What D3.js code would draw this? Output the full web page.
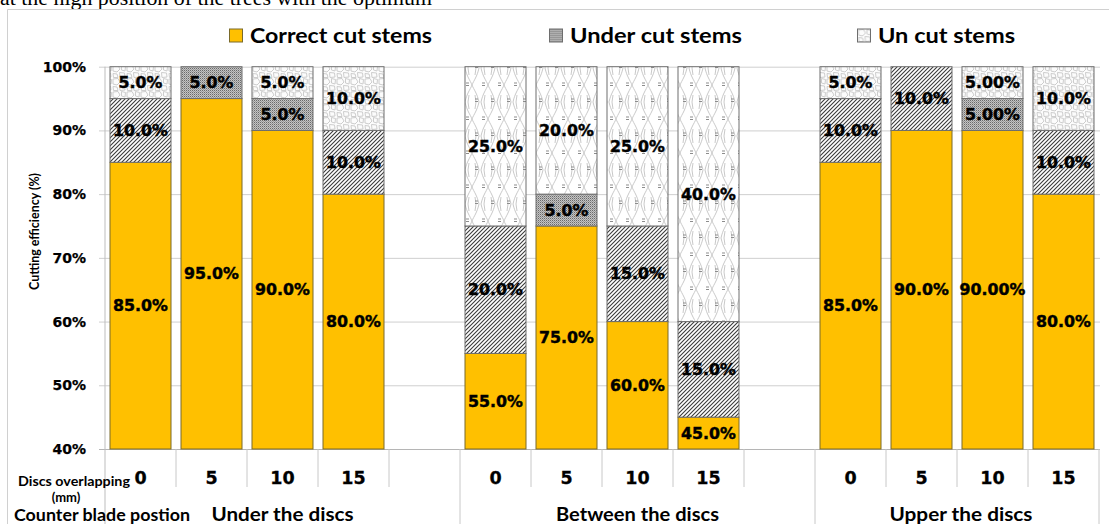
<!DOCTYPE html>
<html>
<head>
<meta charset="utf-8">
<script src="https://cdn.jsdelivr.net/npm/d3@7"></script>
<style>
  html, body { margin: 0; padding: 0; background: #fff; }
  svg { display: block; }
</style>
</head>
<body>
<svg id="chart" width="1109" height="524"></svg>
<script>
// ---------------- data ----------------
const groups = ["Under the discs", "Between the discs", "Upper the discs"];
const overlaps = ["0", "5", "10", "15"];
const seriesNames = ["Correct cut stems", "Under cut stems", "Un cut stems"];
const correctCut = [85, 95, 90, 80, 55, 75, 60, 45, 85, 90, 90, 80];
const underCut   = [10, 5, 5, 10, 20, 5, 15, 15, 10, 10, 5, 10];
const unCut      = [5, 0, 5, 10, 25, 20, 25, 40, 5, 0, 5, 10];
const labelDecimals = [1, 1, 1, 1, 1, 1, 1, 1, 1, 1, 2, 1];
const yTicks = [40, 50, 60, 70, 80, 90, 100];
const yTickLabels = ["40%", "50%", "60%", "70%", "80%", "90%", "100%"];

// ---------------- build slots ----------------
const slots = [];
let idx = 0;
groups.forEach((g, gi) => {
  overlaps.forEach(o => { slots.push({ key: g + "|" + o, group: gi, overlap: o, idx: idx++ }); });
  if (gi < groups.length - 1) slots.push({ key: g + "|gap", group: gi, overlap: "", idx: null });
});
const rows = slots.filter(s => s.idx !== null).map(s => ({
  key: s.key, idx: s.idx,
  correct: correctCut[s.idx], under: underCut[s.idx], uncut: unCut[s.idx]
}));

const svg = d3.select("#chart");
const W = 1109, H = 524;
svg.append("rect").attr("width", W).attr("height", H).attr("fill", "#fff");

// ---------------- patterns ----------------
const defs = svg.append("defs");
const ph = defs.append("pattern").attr("id", "hatch").attr("patternUnits", "userSpaceOnUse")
  .attr("width", 4).attr("height", 4);
ph.append("rect").attr("width", 4).attr("height", 4).attr("fill", "#fff");
ph.append("path").attr("d", "M-1,1 L1,-1 M0,4 L4,0 M3,5 L5,3")
  .attr("stroke", "#3a3a3a").attr("stroke-width", 1.1);
const pd = defs.append("pattern").attr("id", "dots").attr("patternUnits", "userSpaceOnUse")
  .attr("width", 2).attr("height", 2);
pd.append("rect").attr("width", 2).attr("height", 2).attr("fill", "#c4c4c4");
pd.append("rect").attr("width", 1).attr("height", 1).attr("fill", "#6a6a6a");
pd.append("rect").attr("x", 1).attr("y", 1).attr("width", 1).attr("height", 1).attr("fill", "#9a9a9a");
const pp = defs.append("pattern").attr("id", "pebble").attr("patternUnits", "userSpaceOnUse")
  .attr("width", 14).attr("height", 13);
pp.append("rect").attr("width", 14).attr("height", 13).attr("fill", "#fcfcfc");
pp.append("path")
  .attr("d", "M1,1 L6,0.5 L8,4 L5,7 L1,6 Z M9.5,0.5 L13.5,1.5 L13,6 L9.5,5 Z M1,8.5 L5,9 L6,12.5 L1.5,12.5 Z M7.5,7.5 L12.5,8 L13,12 L8,12.5 Z")
  .attr("fill", "none").attr("stroke", "#cdcdcd").attr("stroke-width", 1);
const pw = defs.append("pattern").attr("id", "weave").attr("patternUnits", "userSpaceOnUse")
  .attr("width", 16).attr("height", 34);
pw.append("rect").attr("width", 16).attr("height", 34).attr("fill", "#fff");
pw.append("path")
  .attr("d", "M1,0 C3,9 6,12 8,17 C10,22 13,25 15,34 M15,0 C13,9 10,12 8,17 C6,22 3,25 1,34 M4,0 L5,7 M12,0 L11,7 M5,27 L4,34 M11,27 L12,34")
  .attr("fill", "none").attr("stroke", "#c9c9c9").attr("stroke-width", 1);
pw.append("path")
  .attr("d", "M2,15 L5,15 M2,17.5 L5,17.5 M11,31 L14,31 M11,33.5 L14,33.5")
  .attr("fill", "none").attr("stroke", "#8c8c8c").attr("stroke-width", 1);

// ---------------- scales ----------------
const x = d3.scaleBand().domain(slots.map(s => s.key)).range([105, 1099])
  .paddingInner(10 / 71).paddingOuter(5 / 71);
const y = d3.scaleLinear().domain([40, 100]).range([449, 66.7]).clamp(true);

// top clipped document text (cut off in the reference too)
svg.append("text").attr("x", 0).attr("y", 5)
  .attr("font-family", "Liberation Serif, serif").attr("font-size", 20)
  .attr("textLength", 432).attr("lengthAdjust", "spacingAndGlyphs")
  .text("at the high position of the trees with the optimum");

// chart frame
svg.append("path").attr("d", "M7.5,530 L7.5,9.5 L1120,9.5")
  .attr("fill", "none").attr("stroke", "#d0d0d0");

// ---------------- grid / y axis ----------------
const yAxis = d3.axisLeft(y).tickValues(yTicks)
  .tickFormat((d, i) => yTickLabels[i]).tickSizeInner(-(1100 - 99)).tickSizeOuter(0).tickPadding(13);
const gy = svg.append("g").attr("transform", "translate(99,0)").call(yAxis)
  .attr("font-family", "DejaVu Sans, sans-serif").attr("font-size", 14);
gy.select(".domain").remove();
gy.selectAll(".tick line").attr("stroke", (d) => d === 40 ? "#b5b5b5" : "#cfcfcf").attr("stroke-width", 1);
gy.selectAll(".tick text").style("font-family", "DejaVu Sans, sans-serif").style("font-weight", "bold")
  .style("font-size", "14px").attr("fill", "#000").attr("stroke", "#000").attr("stroke-width", 0.25);

svg.append("line").attr("x1", 105).attr("x2", 105).attr("y1", y(100)).attr("y2", H)
  .attr("stroke", "#bdbdbd");

// category separators
const nSlots = slots.length;
const x0 = x.range()[0], step = (x.range()[1] - x.range()[0]) / nSlots;
const sepIdx = d3.range(1, nSlots + 1);
const longSep = new Set();
slots.forEach((s, i) => { if (i > 0 && slots[i - 1].group !== s.group) longSep.add(i); });
longSep.add(nSlots);
svg.append("g").selectAll("line").data(sepIdx).join("line")
  .attr("x1", k => x0 + k * step).attr("x2", k => x0 + k * step)
  .attr("y1", 449).attr("y2", k => longSep.has(k) ? H : 487)
  .attr("stroke", "#c8c8c8");

// ---------------- bars ----------------
const stack = d3.stack().keys(["correct", "under", "uncut"]);
const stacked = stack(rows);
function fillFor(key, d) {
  const v = d[1] - d[0];
  if (key === "correct") return "#FFC000";
  if (key === "under") return v <= 5 ? "url(#dots)" : "url(#hatch)";
  return v >= 20 ? "url(#weave)" : "url(#pebble)";
}
const gBars = svg.append("g");
stacked.forEach(layer => {
  gBars.append("g").selectAll("rect").data(layer.filter(d => d[1] - d[0] > 0)).join("rect")
    .attr("x", d => x(d.data.key))
    .attr("width", x.bandwidth())
    .attr("y", d => y(d[1]))
    .attr("height", d => y(d[0]) - y(d[1]))
    .attr("fill", d => fillFor(layer.key, d))
    .attr("stroke", layer.key === "correct" ? "#7a6a2a" : "#6e6e6e")
    .attr("stroke-width", 1);
});
const gLab = svg.append("g");
stacked.forEach(layer => {
  gLab.append("g").selectAll("text").data(layer.filter(d => d[1] - d[0] > 0)).join("text")
    .attr("x", d => x(d.data.key) + x.bandwidth() / 2)
    .attr("y", d => y((Math.max(d[0], 40) + d[1]) / 2))
    .attr("dy", "0.36em")
    .attr("text-anchor", "middle")
    .attr("font-family", "DejaVu Sans, sans-serif").attr("font-weight", "bold")
    .attr("font-size", 15.8).attr("fill", "#000").attr("stroke", "#000").attr("stroke-width", 0.45)
    .text(d => (d[1] - d[0]).toFixed(labelDecimals[d.data.idx]) + "%");
});

// ---------------- category labels ----------------
svg.append("g").selectAll("text").data(slots.filter(s => s.overlap !== "")).join("text")
  .attr("x", s => x(s.key) + x.bandwidth() / 2).attr("y", 484)
  .attr("text-anchor", "middle")
  .attr("font-family", "DejaVu Sans, sans-serif").attr("font-weight", "bold").attr("font-size", 17.5)
  .attr("stroke", "#000").attr("stroke-width", 0.3)
  .text(s => s.overlap);

const groupCenters = groups.map((g, gi) => {
  const gs = slots.filter(s => s.group === gi);
  const a = x0 + slots.indexOf(gs[0]) * step;
  const b = Math.min(x0 + (slots.indexOf(gs[gs.length - 1]) + 1) * step, W);
  return gi === groups.length - 1 ? (a + b) / 2 + 4 : (a + b) / 2;
});
const groupWidths = [142, 163, 143];
svg.append("g").selectAll("text").data(groups).join("text")
  .attr("x", (g, i) => groupCenters[i]).attr("y", 521)
  .attr("text-anchor", "middle")
  .attr("font-family", "Lato, sans-serif").attr("font-weight", "bold").attr("font-size", 18.5)
  .attr("textLength", (g, i) => groupWidths[i]).attr("lengthAdjust", "spacingAndGlyphs")
  .text(g => g);

svg.append("text").attr("x", 18).attr("y", 486).attr("font-size", 13)
  .attr("font-family", "Lato, sans-serif").attr("font-weight", "bold")
  .attr("textLength", 112).attr("lengthAdjust", "spacingAndGlyphs").text("Discs overlapping");
svg.append("text").attr("x", 66).attr("y", 502).attr("font-size", 13).attr("text-anchor", "middle")
  .attr("font-family", "Lato, sans-serif").attr("font-weight", "bold").text("(mm)");
svg.append("text").attr("x", 14).attr("y", 521).attr("font-size", 17.5)
  .attr("font-family", "Lato, sans-serif").attr("font-weight", "bold")
  .attr("textLength", 176).attr("lengthAdjust", "spacingAndGlyphs").text("Counter blade postion");

// y axis title
svg.append("text").attr("transform", "translate(38.5,231.5) rotate(-90)")
  .attr("text-anchor", "middle").attr("font-size", 14)
  .attr("font-family", "Lato, sans-serif").attr("font-weight", "bold")
  .attr("textLength", 117).attr("lengthAdjust", "spacingAndGlyphs")
  .text("Cutting efficiency (%)");

// ---------------- legend ----------------
const legendX = [229.5, 549.5, 857.5];
const legendW = [182, 172, 137];
const legendFill = ["#FFC000", "url(#dots)", "url(#pebble)"];
const lg = svg.append("g").selectAll("g").data(seriesNames).join("g")
  .attr("transform", (d, i) => `translate(${legendX[i]},29)`);
lg.append("rect").attr("width", 13).attr("height", 13)
  .attr("fill", (d, i) => legendFill[i])
  .attr("stroke", (d, i) => i === 0 ? "#7a6a2a" : "#6e6e6e");
lg.append("text").attr("x", 20.5).attr("y", 13.5)
  .attr("font-family", "Lato, sans-serif").attr("font-weight", "bold").attr("font-size", 21)
  .attr("textLength", (d, i) => legendW[i]).attr("lengthAdjust", "spacingAndGlyphs")
  .text(d => d);
</script>
</body>
</html>
